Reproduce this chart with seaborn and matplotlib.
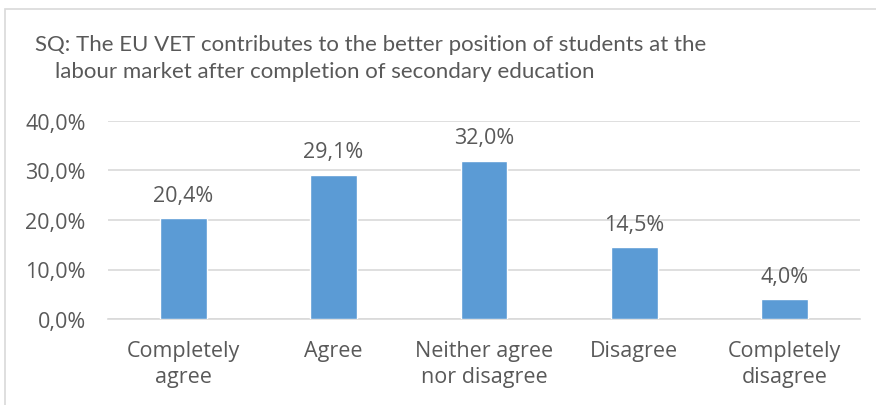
import matplotlib
matplotlib.use('Agg')
import matplotlib.pyplot as plt
from matplotlib.patches import Rectangle
import pandas as pd
import seaborn as sns

categories = ["Completely\nagree", "Agree", "Neither agree\nnor disagree",
              "Disagree", "Completely\ndisagree"]
values = [20.4, 29.1, 32.0, 14.5, 4.0]
yticks = [0, 10, 20, 30, 40]

title_1 = "SQ: The EU VET contributes to the better position of students at the"
title_2 = "labour market after completion of secondary education"


def fmt(v):
    return "{0:.1f}%".format(v).replace(".", ",")


def main():
    sns.set_theme(style="white")
    plt.rcParams['font.family'] = ['Open Sans', 'DejaVu Sans']
    text_col = "#595959"
    grid_col = "#D9D9D9"

    df = pd.DataFrame({"cat": categories, "val": values})

    fig = plt.figure(figsize=(8.76, 4.06), dpi=100)
    ax = fig.add_axes([108 / 876, 1 - 320 / 406, 752 / 876, 198 / 406])

    sns.barplot(data=df, x="cat", y="val", color="#5B9BD5", width=0.31,
                saturation=1, ax=ax, zorder=3)

    ax.set_ylim(0, 40)
    ax.set_yticks(yticks)
    ax.set_yticklabels([fmt(t) for t in yticks])
    ax.yaxis.grid(True, color=grid_col, linewidth=1.2, zorder=0)
    ax.set_axisbelow(True)
    for s in ["top", "right", "left"]:
        ax.spines[s].set_visible(False)
    ax.spines["bottom"].set_color(grid_col)
    ax.spines["bottom"].set_linewidth(1.2)
    ax.set_xlabel("")
    ax.set_ylabel("")
    ax.tick_params(axis="both", length=0, labelsize=15.5, labelcolor=text_col)
    ax.tick_params(axis="x", pad=15)
    ax.tick_params(axis="y", pad=16)
    for lbl in ax.get_xticklabels():
        lbl.set_linespacing(1.3)

    for i, v in enumerate(values):
        ax.annotate(fmt(v), (i, v), xytext=(0, 9), textcoords="offset points",
                    ha="center", va="bottom", fontsize=15.5, color=text_col)

    fig.text(35 / 876, 1 - 45 / 406, title_1, fontsize=16, color=text_col,
             va="center", ha="left", family=['Lato', 'DejaVu Sans'])
    fig.text(55 / 876, 1 - 72 / 406, title_2, fontsize=16, color=text_col,
             va="center", ha="left", family=['Lato', 'DejaVu Sans'])

    fig.patches.append(Rectangle((5 / 876, -0.1), 1.1, 1.1 - 10 / 406,
                                 transform=fig.transFigure, fill=False,
                                 edgecolor=grid_col, linewidth=1.2))

    plt.savefig("out.png", dpi=100)


if __name__ == "__main__":
    main()
